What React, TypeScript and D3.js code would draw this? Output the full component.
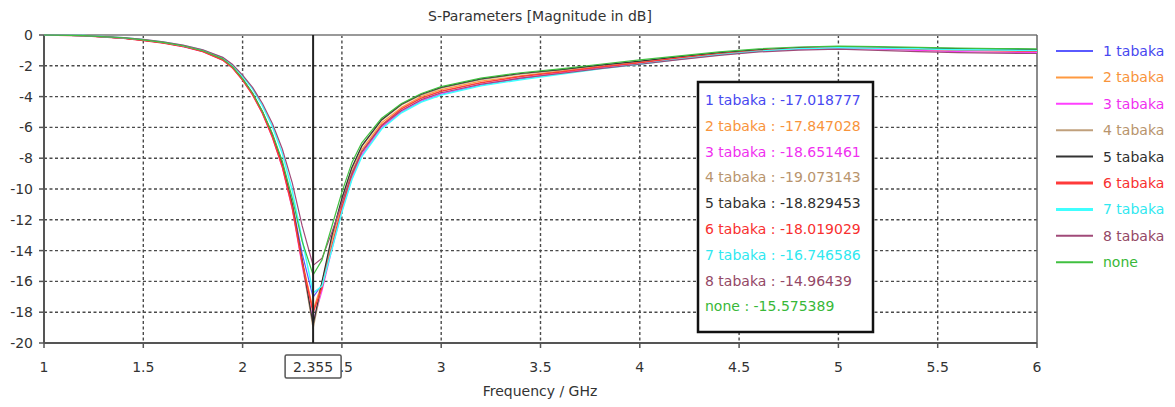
import * as d3 from "d3";

// frequency grid (GHz) shared by every trace
const freqs = [
  1.0, 1.2, 1.4, 1.5, 1.6, 1.7, 1.8, 1.9, 1.95, 2.0, 2.05, 2.1, 2.15, 2.2,
  2.25, 2.3, 2.355, 2.4, 2.45, 2.5, 2.55, 2.6, 2.7, 2.8, 2.9, 3.0, 3.2, 3.4,
  3.6, 3.8, 4.0, 4.2, 4.4, 4.6, 4.8, 5.0, 5.2, 5.4, 5.6, 5.8, 6.0,
];

const tabaka1 = [0, -0.05, -0.2, -0.33, -0.5, -0.72, -1.04, -1.58, -2.1, -2.85, -3.8, -4.98, -6.45, -8.3, -10.9, -14.2, -17.02, -16.2, -13.8, -11.4, -9.3, -7.8, -6.0, -5.0, -4.3, -3.85, -3.25, -2.85, -2.5, -2.15, -1.85, -1.55, -1.25, -1.02, -0.88, -0.8, -0.85, -0.9, -0.95, -1.0, -1.02];
const tabaka2 = [0, -0.05, -0.2, -0.34, -0.5, -0.73, -1.05, -1.6, -2.12, -2.88, -3.82, -5.02, -6.55, -8.45, -11.1, -14.6, -17.85, -16.1, -13.3, -10.9, -8.9, -7.45, -5.7, -4.7, -4.0, -3.55, -3.0, -2.65, -2.35, -2.05, -1.78, -1.48, -1.22, -1.0, -0.86, -0.78, -0.82, -0.88, -0.92, -0.96, -1.0];
const tabaka3 = [0, -0.05, -0.21, -0.35, -0.52, -0.75, -1.08, -1.63, -2.15, -2.92, -3.88, -5.1, -6.65, -8.6, -11.3, -15.0, -18.65, -16.6, -13.9, -11.4, -9.3, -7.8, -6.0, -4.95, -4.25, -3.8, -3.2, -2.8, -2.48, -2.15, -1.85, -1.55, -1.28, -1.05, -0.92, -0.85, -0.92, -1.0, -1.08, -1.12, -1.15];
const tabaka4 = [0, -0.05, -0.2, -0.34, -0.5, -0.73, -1.06, -1.62, -2.14, -2.92, -3.85, -5.05, -6.6, -8.5, -11.2, -14.8, -19.07, -16.2, -13.1, -10.7, -8.7, -7.25, -5.55, -4.55, -3.9, -3.45, -2.9, -2.55, -2.28, -1.98, -1.72, -1.42, -1.18, -0.98, -0.85, -0.78, -0.82, -0.86, -0.9, -0.95, -0.98];
const tabaka5 = [0, -0.05, -0.2, -0.33, -0.5, -0.72, -1.05, -1.6, -2.12, -2.87, -3.8, -5.0, -6.5, -8.4, -11.0, -14.6, -18.83, -16.0, -13.0, -10.6, -8.6, -7.2, -5.5, -4.5, -3.85, -3.4, -2.85, -2.5, -2.25, -1.95, -1.7, -1.4, -1.15, -0.95, -0.82, -0.75, -0.8, -0.85, -0.88, -0.92, -0.95];
const tabaka6 = [0, -0.05, -0.21, -0.35, -0.52, -0.74, -1.07, -1.62, -2.14, -2.92, -3.87, -5.08, -6.62, -8.55, -11.2, -14.8, -18.02, -16.4, -13.7, -11.2, -9.1, -7.6, -5.85, -4.8, -4.1, -3.65, -3.1, -2.7, -2.4, -2.08, -1.8, -1.5, -1.24, -1.02, -0.88, -0.8, -0.85, -0.92, -0.98, -1.02, -1.05];
const tabaka7 = [0, -0.04, -0.18, -0.3, -0.46, -0.68, -0.98, -1.48, -1.97, -2.68, -3.5, -4.6, -5.95, -7.7, -10.1, -13.3, -16.75, -16.3, -13.9, -11.5, -9.4, -7.9, -6.1, -5.05, -4.35, -3.9, -3.3, -2.9, -2.55, -2.2, -1.9, -1.58, -1.28, -1.05, -0.9, -0.82, -0.86, -0.9, -0.95, -0.98, -1.0];
const tabaka8 = [0, -0.04, -0.17, -0.29, -0.45, -0.66, -0.96, -1.45, -1.92, -2.6, -3.4, -4.45, -5.75, -7.4, -9.6, -12.4, -14.96, -14.5, -12.8, -10.9, -9.0, -7.6, -5.9, -4.9, -4.2, -3.75, -3.2, -2.8, -2.5, -2.18, -1.9, -1.6, -1.32, -1.1, -0.98, -0.92, -1.0, -1.08, -1.14, -1.18, -1.2];
const none = [0, -0.04, -0.18, -0.32, -0.48, -0.7, -1.02, -1.55, -2.07, -2.83, -3.75, -4.95, -6.4, -8.2, -10.6, -13.4, -15.58, -14.6, -12.4, -10.2, -8.3, -7.0, -5.4, -4.45, -3.8, -3.35, -2.8, -2.45, -2.2, -1.9, -1.62, -1.35, -1.1, -0.9, -0.78, -0.72, -0.75, -0.8, -0.85, -0.88, -0.9];

const seriesNames = ["1 tabaka", "2 tabaka", "3 tabaka", "4 tabaka", "5 tabaka", "6 tabaka", "7 tabaka", "8 tabaka", "none"];
const seriesValues = [tabaka1, tabaka2, tabaka3, tabaka4, tabaka5, tabaka6, tabaka7, tabaka8, none];
const seriesColors = ["#5a5aff", "#ff9a40", "#ff40ff", "#c0a07c", "#333333", "#ff3a3a", "#40ffff", "#a04a78", "#40c040"];
const labelColors = ["#4848f0", "#f8943c", "#f030f0", "#b8946c", "#303030", "#f83030", "#30e8f0", "#944866", "#38b838"];
const seriesWidths = [1.2, 1.2, 1.2, 1.2, 1.2, 1.5, 1.5, 1.2, 1.2];
const legendWidths = [2, 2, 2, 2, 2, 3, 3, 2, 2];

// values shown in the marker readout at 2.355 GHz
const markerFreq = 2.355;
const markerLabels = ["-17.018777", "-17.847028", "-18.651461", "-19.073143", "-18.829453", "-18.019029", "-16.746586", "-14.96439", "-15.575389"];

const xTicks = [1, 1.5, 2, 2.5, 3, 3.5, 4, 4.5, 5, 5.5, 6];
const yTicks = [0, -2, -4, -6, -8, -10, -12, -14, -16, -18, -20];

const W = 1175;
const H = 407;
const left = 44;
const right = 1037;
const top = 35;
const bottom = 343;
const font = "'DejaVu Sans', Verdana, sans-serif";

const App = () => {
  const x = d3.scaleLinear().domain([1, 6]).range([left, right]);
  const y = d3.scaleLinear().domain([-20, 0]).range([bottom, top]);

  const line = d3
    .line<number>()
    .x((_, i) => x(freqs[i]))
    .y((d) => y(d));

  const mx = x(markerFreq);

  return (
    <svg
      width={W}
      height={H}
      style={{ position: "absolute", left: 0, top: 0, background: "#fff" }}
      fontFamily={font}
    >
      <text x={540} y={21} textAnchor="middle" fontSize={14} fill="#333">
        S-Parameters [Magnitude in dB]
      </text>

      {/* grid */}
      <g stroke="#4a4a4a" strokeWidth={1.4} strokeDasharray="3,2.5">
        {xTicks.slice(1, -1).map((t) => (
          <line key={"gx" + t} x1={x(t)} x2={x(t)} y1={top} y2={bottom} />
        ))}
        {yTicks.slice(1, -1).map((t) => (
          <line key={"gy" + t} x1={left} x2={right} y1={y(t)} y2={y(t)} />
        ))}
      </g>

      {/* frame */}
      <line x1={left} x2={right} y1={top} y2={top} stroke="#999" strokeWidth={2} />
      <line x1={right} x2={right} y1={top} y2={bottom} stroke="#666" strokeWidth={1.5} />
      <line x1={left} x2={left} y1={top} y2={bottom} stroke="#555" strokeWidth={2} />
      <line x1={left} x2={right} y1={bottom} y2={bottom} stroke="#555" strokeWidth={2} />

      {/* ticks */}
      <g stroke="#555" strokeWidth={1.5}>
        {yTicks.map((t) => (
          <line key={"ty" + t} x1={left - 5} x2={left} y1={y(t)} y2={y(t)} />
        ))}
        {xTicks.map((t) => (
          <line key={"tx" + t} x1={x(t)} x2={x(t)} y1={bottom} y2={bottom + 5} />
        ))}
      </g>

      <g fontSize={14} fill="#333">
        {yTicks.map((t) => (
          <text key={"ly" + t} x={33} y={y(t)} dy="0.35em" textAnchor="end">
            {t}
          </text>
        ))}
        {xTicks.map((t) => (
          <text key={"lx" + t} x={x(t)} y={372} textAnchor="middle">
            {t}
          </text>
        ))}
        <text x={540} y={396} textAnchor="middle">
          Frequency / GHz
        </text>
      </g>

      {/* traces */}
      <g fill="none" strokeLinejoin="round">
        {seriesValues.map((vals, i) => (
          <path
            key={seriesNames[i]}
            d={line(vals) ?? ""}
            stroke={seriesColors[i]}
            strokeWidth={seriesWidths[i]}
          />
        ))}
      </g>

      {/* marker */}
      <line x1={mx} x2={mx} y1={top} y2={bottom} stroke="#222" strokeWidth={2} />
      <rect x={mx - 28} y={355} width={56} height={23} fill="#fff" stroke="#555" strokeWidth={1.5} rx={1.5} />
      <text x={mx} y={372} textAnchor="middle" fontSize={14} fill="#333">
        {markerFreq}
      </text>

      {/* marker readout */}
      <rect x={698} y={82} width={175} height={250} fill="#fff" stroke="#111" strokeWidth={2.5} />
      {seriesNames.map((n, i) => (
        <text key={"mk" + n} x={705} y={100 + i * 25.8} dy="0.35em" fontSize={14} fill={labelColors[i]}>
          {n} : {markerLabels[i]}
        </text>
      ))}

      {/* legend */}
      {seriesNames.map((n, i) => (
        <g key={"lg" + n} transform={`translate(0,${51 + i * 26.4})`}>
          <line x1={1056} x2={1093} y1={0} y2={0} stroke={seriesColors[i]} strokeWidth={legendWidths[i]} />
          <text x={1103} y={0} dy="0.35em" fontSize={14} fill={labelColors[i]}>
            {n}
          </text>
        </g>
      ))}
    </svg>
  );
};

export default App;
